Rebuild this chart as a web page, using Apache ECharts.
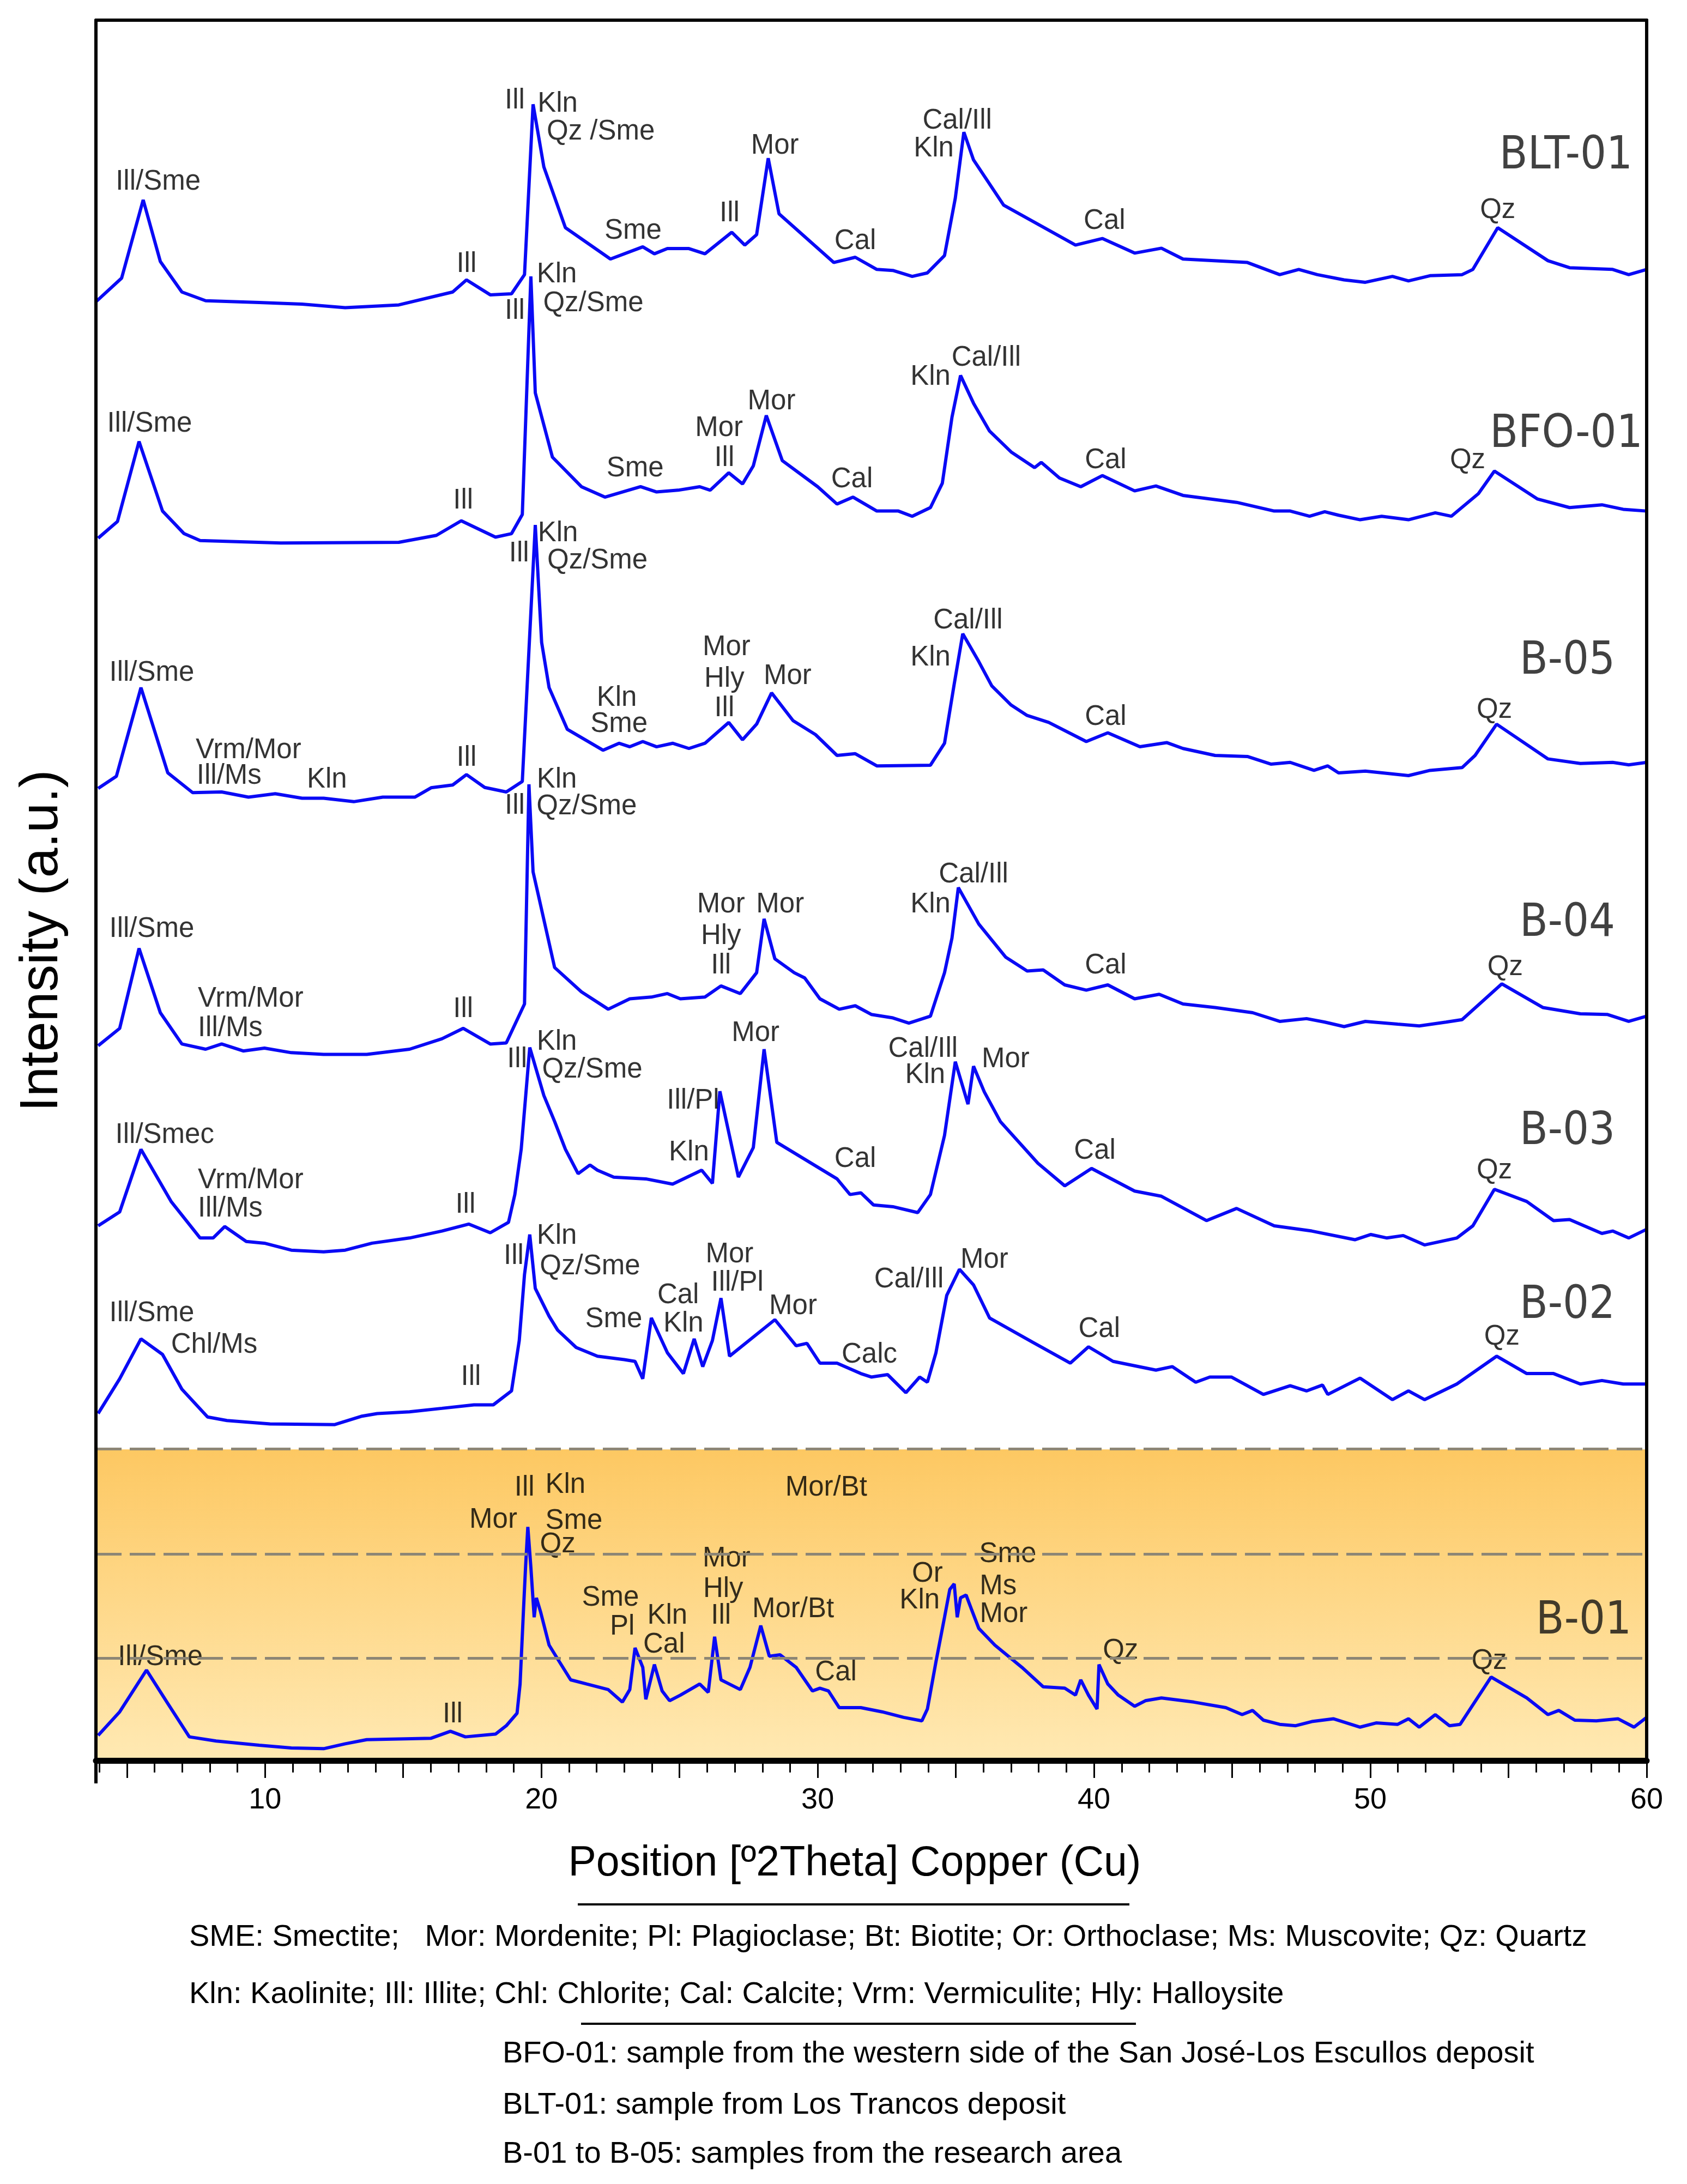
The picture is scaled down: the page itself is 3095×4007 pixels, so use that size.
<!DOCTYPE html>
<html><head><meta charset="utf-8">
<script src="https://cdn.jsdelivr.net/npm/echarts@6/dist/echarts.min.js"></script>
<style>html,body{margin:0;padding:0;background:#fff}#c{width:3095px;height:4007px}</style>
</head><body><div id="c"></div>
<script>
// ---------- DATA ----------
const X_MIN = 3.88, X_MAX = 60, Y_MAX = 5006;
const sampleNames = ['BLT-01','BFO-01','B-05','B-04','B-03','B-02','B-01'];
// [2theta, intensity (a.u., offset-stacked)]
const BLT01 = [[3.88,4196],[4.81,4264],[5.59,4489],[6.21,4312],[6.99,4224],[7.85,4199],[9.79,4194],[11.34,4189],[12.90,4179],[14.84,4187],[16.79,4224],[17.29,4259],[18.15,4216],[18.92,4219],[19.39,4274],[19.70,4764],[20.09,4584],[20.87,4409],[22.50,4319],[23.67,4354],[24.09,4334],[24.56,4349],[25.34,4349],[25.92,4334],[26.89,4396],[27.36,4359],[27.79,4389],[28.21,4609],[28.60,4449],[30.58,4309],[31.36,4324],[32.14,4289],[32.72,4286],[33.42,4269],[33.97,4279],[34.59,4329],[34.98,4494],[35.29,4684],[35.64,4604],[36.73,4474],[39.33,4359],[40.30,4378],[41.47,4336],[42.44,4350],[43.22,4319],[45.55,4309],[46.72,4274],[47.41,4289],[48.08,4274],[49.05,4259],[49.82,4252],[50.80,4269],[51.38,4256],[52.16,4271],[53.32,4274],[53.71,4289],[54.61,4409],[56.43,4314],[57.21,4294],[58.77,4289],[59.35,4274],[60.00,4289]];
const BFO01 = [[3.96,3516],[4.66,3564],[5.44,3794],[6.29,3594],[7.07,3529],[7.65,3509],[10.57,3502],[14.84,3504],[16.20,3524],[17.10,3566],[18.34,3519],[18.92,3529],[19.31,3584],[19.62,4269],[19.78,3934],[20.40,3749],[21.45,3664],[22.30,3634],[23.59,3664],[24.17,3649],[24.95,3654],[25.73,3664],[26.11,3654],[26.78,3704],[27.28,3672],[27.67,3724],[28.14,3869],[28.72,3739],[30.00,3664],[30.70,3614],[31.28,3634],[32.14,3594],[32.92,3594],[33.42,3579],[34.08,3604],[34.51,3674],[34.86,3864],[35.17,3984],[35.64,3904],[36.22,3824],[37.00,3764],[37.85,3719],[38.09,3734],[38.75,3689],[39.52,3664],[40.30,3696],[41.47,3652],[42.24,3666],[43.22,3639],[45.16,3619],[46.52,3594],[47.10,3594],[47.80,3579],[48.35,3592],[48.85,3582],[49.63,3569],[50.41,3579],[51.38,3569],[52.35,3589],[52.93,3579],[53.91,3644],[54.49,3709],[56.04,3629],[57.21,3604],[58.38,3612],[59.15,3599],[60.00,3594]];
const B05 = [[3.96,2796],[4.62,2831],[5.51,3086],[6.48,2841],[7.38,2784],[8.43,2786],[9.40,2771],[10.37,2781],[11.34,2768],[12.12,2768],[13.21,2758],[14.26,2771],[15.42,2771],[16.01,2798],[16.79,2806],[17.29,2836],[17.95,2799],[18.73,2786],[19.31,2816],[19.78,3554],[20.01,3216],[20.28,3086],[20.94,2966],[22.23,2906],[22.81,2926],[23.20,2916],[23.67,2931],[24.17,2916],[24.75,2926],[25.34,2911],[25.92,2926],[26.78,2986],[27.28,2936],[27.79,2981],[28.33,3071],[29.11,2991],[29.92,2951],[30.70,2891],[31.36,2896],[32.14,2861],[34.08,2863],[34.59,2926],[34.94,3096],[35.25,3241],[35.83,3161],[36.30,3091],[37.00,3036],[37.58,3006],[38.36,2986],[39.72,2931],[40.50,2956],[41.66,2916],[42.63,2928],[43.22,2911],[44.38,2891],[45.55,2888],[46.40,2866],[47.10,2871],[47.96,2848],[48.46,2861],[48.85,2841],[49.82,2846],[51.38,2833],[52.16,2848],[53.32,2856],[53.79,2891],[54.57,2981],[56.43,2881],[57.60,2868],[58.77,2871],[59.35,2864],[60.00,2871]];
const B04 = [[3.96,2056],[4.74,2106],[5.44,2336],[6.21,2151],[6.99,2061],[7.85,2046],[8.43,2061],[9.21,2041],[9.98,2049],[10.95,2036],[12.12,2031],[13.68,2031],[15.23,2046],[16.40,2076],[17.17,2106],[18.15,2061],[18.73,2064],[19.39,2176],[19.55,2808],[19.70,2556],[19.90,2486],[20.48,2281],[21.45,2211],[22.42,2161],[23.20,2191],[23.98,2196],[24.56,2206],[25.03,2191],[25.92,2196],[26.50,2228],[27.20,2206],[27.79,2266],[28.06,2421],[28.45,2306],[29.15,2266],[29.53,2251],[30.08,2191],[30.78,2161],[31.36,2171],[31.94,2146],[32.72,2136],[33.30,2121],[34.08,2141],[34.59,2266],[34.86,2366],[35.09,2511],[35.83,2406],[36.80,2311],[37.58,2271],[38.16,2274],[38.94,2231],[39.72,2216],[40.50,2231],[41.47,2191],[42.36,2204],[43.22,2176],[44.38,2166],[45.74,2151],[46.72,2126],[47.69,2134],[48.35,2124],[49.05,2111],[49.82,2126],[50.99,2118],[51.77,2113],[52.74,2124],[53.32,2131],[54.76,2234],[56.24,2166],[57.60,2148],[58.57,2146],[59.35,2126],[60.00,2141]];
const B03 = [[3.96,1538],[4.74,1578],[5.51,1758],[6.60,1608],[7.65,1503],[8.12,1503],[8.54,1536],[9.32,1493],[9.98,1488],[10.95,1468],[12.12,1463],[12.90,1468],[13.87,1488],[15.23,1503],[16.40,1523],[17.37,1543],[18.15,1518],[18.81,1548],[19.04,1628],[19.27,1758],[19.58,2051],[20.09,1913],[20.48,1838],[20.87,1758],[21.33,1688],[21.76,1713],[22.03,1698],[22.62,1678],[23.78,1673],[24.75,1658],[25.80,1698],[26.19,1660],[26.46,1925],[27.13,1678],[27.67,1763],[28.06,2046],[28.52,1778],[30.70,1673],[31.17,1628],[31.56,1633],[32.02,1598],[32.72,1593],[33.62,1576],[34.08,1628],[34.59,1798],[34.98,2010],[35.44,1888],[35.64,1997],[36.03,1923],[36.61,1838],[37.97,1718],[38.94,1653],[39.91,1703],[41.47,1638],[42.44,1623],[44.07,1553],[45.16,1588],[46.52,1538],[47.88,1523],[49.44,1498],[50.02,1513],[50.60,1503],[51.19,1510],[51.96,1483],[53.13,1503],[53.71,1538],[54.49,1643],[55.66,1608],[56.63,1553],[57.21,1556],[58.38,1516],[58.77,1523],[59.35,1503],[60.00,1528]];
const B02 = [[3.96,998],[4.74,1098],[5.51,1213],[6.29,1168],[6.99,1068],[7.92,988],[8.62,978],[10.18,968],[12.51,966],[13.48,990],[14.06,998],[15.23,1003],[16.40,1013],[17.56,1023],[18.26,1023],[18.92,1063],[19.20,1208],[19.39,1398],[19.58,1513],[19.78,1358],[20.28,1278],[20.59,1238],[21.26,1188],[22.03,1163],[23.00,1153],[23.39,1148],[23.67,1098],[23.98,1273],[24.56,1173],[25.14,1113],[25.53,1213],[25.84,1133],[26.19,1208],[26.50,1330],[26.81,1163],[28.45,1268],[29.22,1193],[29.61,1200],[30.08,1143],[30.70,1143],[31.56,1113],[31.94,1103],[32.53,1110],[33.19,1058],[33.69,1103],[33.97,1088],[34.28,1173],[34.67,1338],[35.13,1413],[35.64,1368],[36.22,1273],[37.78,1203],[39.14,1143],[39.80,1190],[40.69,1148],[42.24,1123],[42.83,1133],[43.68,1088],[44.19,1103],[44.97,1103],[46.13,1053],[47.10,1078],[47.69,1063],[48.27,1080],[48.46,1053],[49.63,1100],[50.80,1038],[51.38,1063],[51.96,1038],[53.13,1083],[54.57,1163],[55.66,1113],[56.63,1113],[57.60,1083],[58.38,1093],[59.15,1083],[60.00,1083]];
const B01 = [[3.96,72],[4.74,140],[5.71,260],[6.48,164],[7.26,68],[8.23,56],[9.79,44],[10.95,36],[12.12,34],[12.90,48],[13.68,60],[16.01,64],[16.71,84],[17.25,68],[18.34,76],[18.73,100],[19.12,136],[19.23,220],[19.35,428],[19.43,560],[19.51,672],[19.62,556],[19.74,412],[19.82,468],[19.97,428],[20.28,332],[20.59,292],[21.06,232],[21.64,220],[22.42,204],[22.93,168],[23.20,204],[23.39,324],[23.67,268],[23.78,176],[24.09,276],[24.37,200],[24.64,172],[25.03,188],[25.73,220],[26.04,196],[26.27,356],[26.50,232],[26.70,224],[27.20,204],[27.55,268],[27.94,388],[28.25,300],[28.64,304],[29.22,268],[29.81,200],[30.08,208],[30.39,200],[30.78,152],[31.56,152],[32.33,140],[33.11,124],[33.77,114],[33.97,148],[34.28,284],[34.59,412],[34.78,492],[34.94,508],[35.05,412],[35.17,468],[35.37,476],[35.56,436],[35.83,380],[36.41,332],[37.39,268],[38.16,212],[38.94,208],[39.33,188],[39.52,232],[39.80,188],[40.11,148],[40.18,276],[40.50,220],[40.88,188],[41.47,156],[41.86,172],[42.44,180],[43.61,168],[44.77,152],[45.36,132],[45.74,144],[46.13,116],[46.72,104],[47.30,100],[47.88,112],[48.66,120],[49.63,96],[50.21,108],[50.99,104],[51.38,120],[51.77,96],[52.35,132],[52.86,100],[53.25,104],[54.37,240],[55.66,180],[56.43,132],[56.82,144],[57.40,116],[58.18,114],[58.96,120],[59.54,96],[60.00,124]];

// peak annotations [2theta, intensity, phase]
const peaks_BLT01 = [[6.13,4541,'Ill/Sme'],[17.29,4304,'Ill'],[19.04,4774,'Ill'],[20.59,4764,'Kln'],[22.15,4684,'Qz /Sme'],[23.32,4399,'Sme'],[26.81,4449,'Ill'],[28.45,4644,'Mor'],[31.36,4369,'Cal'],[35.05,4716,'Cal/Ill'],[34.20,4636,'Kln'],[40.38,4427,'Cal'],[54.61,4459,'Qz']];
const peaks_BFO01 = [[5.82,3844,'Ill/Sme'],[17.17,3624,'Ill'],[20.56,4274,'Kln'],[21.88,4191,'Qz/Sme'],[19.04,4169,'Ill'],[23.39,3716,'Sme'],[26.43,3832,'Mor'],[26.62,3746,'Ill'],[28.33,3909,'Mor'],[31.24,3684,'Cal'],[34.08,3979,'Kln'],[36.10,4034,'Cal/Ill'],[40.42,3739,'Cal'],[53.52,3739,'Qz']];
const peaks_B05 = [[19.19,3472,'Ill'],[20.60,3529,'Kln'],[22.03,3451,'Qz/Sme'],[5.90,3128,'Ill/Sme'],[9.40,2906,'Vrm/Mor'],[8.70,2831,'Ill/Ms'],[12.24,2821,'Kln'],[17.29,2884,'Ill'],[22.73,3056,'Kln'],[22.81,2981,'Sme'],[26.70,3201,'Mor'],[26.62,3111,'Hly'],[26.62,3026,'Ill'],[28.91,3118,'Mor'],[35.44,3278,'Cal/Ill'],[34.08,3171,'Kln'],[40.42,3001,'Cal'],[54.49,3021,'Qz']];
const peaks_B04 = [[20.56,2821,'Kln'],[19.04,2746,'Ill'],[21.64,2744,'Qz/Sme'],[5.90,2391,'Ill/Sme'],[9.48,2191,'Vrm/Mor'],[8.74,2106,'Ill/Ms'],[17.17,2161,'Ill'],[26.50,2461,'Mor'],[28.64,2461,'Mor'],[26.50,2371,'Hly'],[26.50,2286,'Ill'],[35.64,2548,'Cal/Ill'],[34.08,2461,'Kln'],[40.42,2286,'Cal'],[54.88,2281,'Qz']];
const peaks_B03 = [[20.56,2066,'Kln'],[19.12,2016,'Ill'],[21.84,1986,'Qz/Sme'],[27.75,2091,'Mor'],[33.81,2046,'Cal/Ill'],[33.89,1971,'Kln'],[36.80,2016,'Mor'],[25.49,1897,'Ill/Pl'],[6.37,1798,'Ill/Smec'],[9.48,1668,'Vrm/Mor'],[8.74,1586,'Ill/Ms'],[17.25,1598,'Ill'],[25.34,1748,'Kln'],[31.36,1730,'Cal'],[40.03,1753,'Cal'],[54.49,1696,'Qz']];
const peaks_B02 = [[20.56,1508,'Kln'],[19.00,1450,'Ill'],[21.76,1420,'Qz/Sme'],[26.81,1455,'Mor'],[27.09,1373,'Ill/Pl'],[24.95,1338,'Cal'],[22.62,1268,'Sme'],[25.14,1256,'Kln'],[29.11,1306,'Mor'],[33.30,1383,'Cal/Ill'],[36.03,1440,'Mor'],[31.87,1166,'Calc'],[40.19,1240,'Cal'],[54.76,1218,'Qz'],[5.90,1286,'Ill/Sme'],[8.16,1195,'Chl/Ms'],[17.45,1103,'Ill']];
const peaks_B01 = [[19.39,784,'Ill'],[20.87,792,'Kln'],[30.31,784,'Mor/Bt'],[18.26,692,'Mor'],[21.18,688,'Sme'],[20.59,621,'Qz'],[22.50,468,'Sme'],[22.93,384,'Pl'],[24.56,416,'Kln'],[24.44,333,'Cal'],[26.70,580,'Mor'],[26.58,492,'Hly'],[26.50,416,'Ill'],[29.11,434,'Mor/Bt'],[30.66,252,'Cal'],[33.97,536,'Or'],[33.69,460,'Kln'],[36.88,592,'Sme'],[36.53,500,'Ms'],[36.73,421,'Mor'],[40.96,316,'Qz'],[54.30,285,'Qz'],[6.21,296,'Ill/Sme'],[16.79,132,'Ill']];
const sampleTags = [[57.08,4614,'BLT-01'],[57.09,3812,'BFO-01'],[57.13,3161,'B-05'],[57.13,2406,'B-04'],[57.13,1808,'B-03'],[57.13,1308,'B-02'],[57.72,400,'B-01']];

const majorTicks = [5,10,15,20,25,30,35,40,45,50,55,60];
const tickLabels = [10,20,30,40,50,60];
const b01Band = [0, 895];
const b01Guides = [896, 594, 294];
const xTitle = 'Position [º2Theta] Copper (Cu)';
const yTitle = 'Intensity (a.u.)';
const abbrevLine1 = 'SME: Smectite;   Mor: Mordenite; Pl: Plagioclase; Bt: Biotite; Or: Orthoclase; Ms: Muscovite; Qz: Quartz';
const abbrevLine2 = 'Kln: Kaolinite; Ill: Illite; Chl: Chlorite; Cal: Calcite; Vrm: Vermiculite; Hly: Halloysite';
const notes = ['BFO-01: sample from the western side of the San José-Los Escullos deposit','BLT-01: sample from Los Trancos deposit','B-01 to B-05: samples from the research area'];

// ---------- CHART ----------
const minorTicks = []; for (let v = 4; v <= 60; v++) minorTicks.push(v);
const traces = [BLT01, BFO01, B05, B04, B03, B02, B01];
const peakSets = [peaks_BLT01, peaks_BFO01, peaks_B05, peaks_B04, peaks_B03, peaks_B02, peaks_B01];
const FONT = '"Liberation Sans", Arial, sans-serif';
const NARROW = '"Liberation Sans Narrow", "DejaVu Sans Condensed", "Liberation Sans", sans-serif';
const chart = echarts.init(document.getElementById('c'), null, {renderer: 'canvas', width: 3095, height: 4007});

const series = [];
series.push({
  type: 'line', data: [[X_MIN, 0]], xAxisIndex: 0, yAxisIndex: 0, z: 1, silent: true,
  symbol: 'none', lineStyle: {opacity: 0},
  markArea: {silent: true, itemStyle: {color: new echarts.graphic.LinearGradient(0, 0, 0, 1, [
      {offset: 0, color: '#FDC862'}, {offset: 1, color: '#FFE9B3'}])},
    data: [[{xAxis: X_MIN, yAxis: b01Band[1]}, {xAxis: X_MAX, yAxis: b01Band[0]}]]},
  markLine: {silent: true, symbol: ['none', 'none'], label: {show: false},
    lineStyle: {type: [47, 15], color: '#8d8675', width: 5},
    data: b01Guides.map(v => ({yAxis: v}))}
});
traces.forEach((d, i) => {
  series.push({type: 'line', name: sampleNames[i], data: d, symbol: 'none', showSymbol: false, z: 2,
    lineStyle: {color: '#0a0af5', width: 6}, silent: true});
});
peakSets.forEach((p, i) => {
  series.push({type: 'scatter', data: p, symbolSize: 0, z: 4, silent: true,
    label: {show: true, position: 'inside', formatter: q => q.value[2], fontSize: 51, fontFamily: FONT, color: '#000'}});
});
series.push({type: 'scatter', data: sampleTags, symbolSize: 0, z: 4, silent: true,
  label: {show: true, position: 'inside', formatter: q => q.value[2], fontSize: 84, fontFamily: NARROW, color: '#111'}});

const graphic = [
  {type: 'text', x: 1568, y: 3420, style: {text: xTitle, font: '77px ' + FONT, fill: '#000', textAlign: 'center', textVerticalAlign: 'middle'}},
  {type: 'line', shape: {x1: 1060, y1: 3494, x2: 2072, y2: 3494}, style: {stroke: '#000', lineWidth: 4}},
  {type: 'text', x: 347, y: 3555, style: {text: abbrevLine1, font: '56px ' + FONT, fill: '#000', textAlign: 'left', textVerticalAlign: 'middle'}},
  {type: 'text', x: 347, y: 3660, style: {text: abbrevLine2, font: '56px ' + FONT, fill: '#000', textAlign: 'left', textVerticalAlign: 'middle'}},
  {type: 'line', shape: {x1: 1066, y1: 3713, x2: 2084, y2: 3713}, style: {stroke: '#000', lineWidth: 4}},
  {type: 'text', x: 922, y: 3769, style: {text: notes[0], font: '56px ' + FONT, fill: '#000', textAlign: 'left', textVerticalAlign: 'middle'}},
  {type: 'text', x: 922, y: 3863, style: {text: notes[1], font: '56px ' + FONT, fill: '#000', textAlign: 'left', textVerticalAlign: 'middle'}},
  {type: 'text', x: 922, y: 3953, style: {text: notes[2], font: '56px ' + FONT, fill: '#000', textAlign: 'left', textVerticalAlign: 'middle'}},
  {type: 'text', x: 78, y: 1726, rotation: Math.PI / 2, style: {text: yTitle, font: '99px ' + FONT, fill: '#000', textAlign: 'center', textVerticalAlign: 'middle'}},
  {type: 'line', shape: {x1: 176, y1: 3228, x2: 176, y2: 3272}, style: {stroke: '#000', lineWidth: 6}}
];

chart.setOption({
  animation: false,
  backgroundColor: '#fff',
  grid: {left: 176, right: 74, top: 37, bottom: 777, containLabel: false},
  xAxis: [
    {type: 'value', min: X_MIN, max: X_MAX, position: 'bottom', z: 5,
     axisLine: {show: true, lineStyle: {color: '#000', width: 11}},
     axisTick: {show: true, customValues: minorTicks, length: 22, lineStyle: {color: '#000', width: 3}},
     axisLabel: {show: true, customValues: tickLabels, fontSize: 54, fontFamily: FONT, color: '#000', margin: 46},
     splitLine: {show: false}},
    {type: 'value', min: X_MIN, max: X_MAX, position: 'bottom', z: 5,
     axisLine: {show: false},
     axisTick: {show: true, customValues: majorTicks, length: 32, lineStyle: {color: '#000', width: 3}},
     axisLabel: {show: false}, splitLine: {show: false}},
    {type: 'value', min: X_MIN, max: X_MAX, position: 'top', z: 5,
     axisLine: {show: true, lineStyle: {color: '#000', width: 6}},
     axisTick: {show: false}, axisLabel: {show: false}, splitLine: {show: false}}
  ],
  yAxis: [
    {type: 'value', min: 0, max: Y_MAX, position: 'left', z: 5,
     axisLine: {show: true, lineStyle: {color: '#000', width: 6}},
     axisTick: {show: false}, axisLabel: {show: false}, splitLine: {show: false}},
    {type: 'value', min: 0, max: Y_MAX, position: 'right', z: 5,
     axisLine: {show: true, lineStyle: {color: '#000', width: 6}},
     axisTick: {show: false}, axisLabel: {show: false}, splitLine: {show: false}}
  ],
  series: series,
  graphic: graphic
});
</script></body></html>
